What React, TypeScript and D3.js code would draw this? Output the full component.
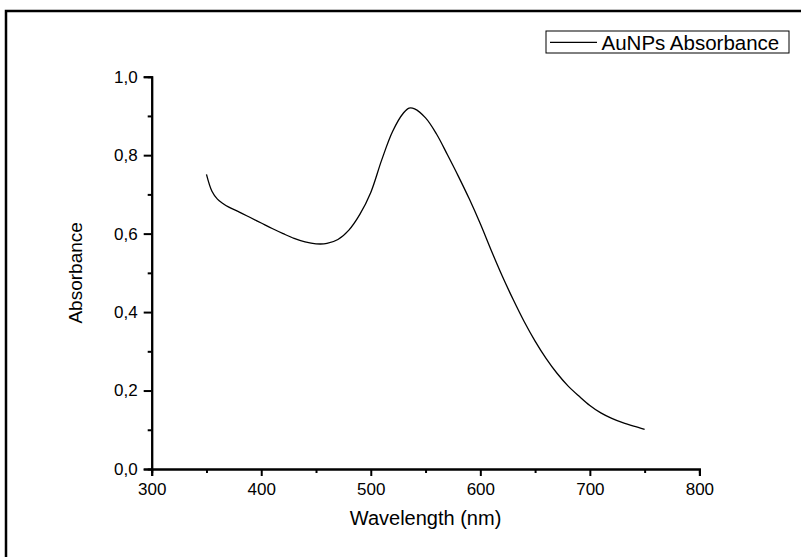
import React, { useEffect, useRef } from 'react';
import * as d3 from 'd3';

// spectrum
const wavelengths = [350, 355, 360, 365, 370, 380, 390, 400, 410, 420, 430, 440, 450, 460, 470, 480, 490, 500, 510, 520, 530, 535, 540, 550, 560, 570, 580, 590, 600, 610, 620, 630, 640, 650, 660, 670, 680, 690, 700, 710, 720, 730, 740, 750];
const absorbance = [0.751, 0.708, 0.688, 0.677, 0.668, 0.655, 0.641, 0.627, 0.613, 0.600, 0.588, 0.579, 0.574, 0.575, 0.585, 0.609, 0.649, 0.705, 0.788, 0.861, 0.908, 0.92, 0.918, 0.895, 0.854, 0.801, 0.746, 0.688, 0.625, 0.557, 0.492, 0.432, 0.376, 0.326, 0.282, 0.244, 0.212, 0.186, 0.162, 0.143, 0.129, 0.118, 0.109, 0.101];

const xTicks = [300, 400, 500, 600, 700, 800];
const xMinor = [350, 450, 550, 650, 750];
const yTicks = [0, 0.2, 0.4, 0.6, 0.8, 1.0];
const yMinor = [0.1, 0.3, 0.5, 0.7, 0.9];

const seriesName = 'AuNPs Absorbance';
const xTitle = 'Wavelength (nm)';
const yTitle = 'Absorbance';

const W = 801;
const H = 557;
const FONT = 'Liberation Sans, Arial, sans-serif';

export default function App() {
  const ref = useRef<SVGSVGElement>(null);

  useEffect(() => {
    const svg = d3.select(ref.current);
    svg.selectAll('*').remove();

    const left = 151.7, right = 699.4, top = 76.7, bottom = 469;
    const x = d3.scaleLinear().domain([300, 800]).range([left, right]);
    const y = d3.scaleLinear().domain([0, 1]).range([bottom, top]);

    // page frame (runs off the right and bottom edge)
    svg.append('rect')
      .attr('x', 6).attr('y', 11)
      .attr('width', 820).attr('height', 580)
      .attr('fill', 'none').attr('stroke', '#000').attr('stroke-width', 2.5);

    const fmt = (d: number) => d3.format('.1f')(d).replace('.', ',');

    const styleAxis = (g: any) => {
      g.select('.domain').attr('stroke-width', 2);
      g.selectAll('.tick line').attr('stroke-width', 2);
      g.selectAll('text').attr('font-family', FONT).attr('font-size', 17).attr('fill', '#000');
    };

    // x axis, major + minor
    svg.append('g')
      .attr('transform', `translate(0,${bottom})`)
      .call(d3.axisBottom(x).tickValues(xMinor).tickSize(4).tickFormat(() => ''))
      .call(styleAxis);
    svg.append('g')
      .attr('transform', `translate(0,${bottom})`)
      .call(d3.axisBottom(x).tickValues(xTicks).tickSize(7).tickSizeOuter(7).tickPadding(7).tickFormat(d3.format('d')))
      .call(styleAxis);

    // y axis, major + minor
    svg.append('g')
      .attr('transform', `translate(${left},0)`)
      .call(d3.axisLeft(y).tickValues(yMinor).tickSize(4).tickFormat(() => ''))
      .call(styleAxis);
    svg.append('g')
      .attr('transform', `translate(${left},0)`)
      .call(d3.axisLeft(y).tickValues(yTicks).tickSize(8).tickSizeOuter(8).tickPadding(6).tickFormat((d: any) => fmt(d)))
      .call(styleAxis);

    // curve
    const pts = wavelengths.map((w, i) => [w, absorbance[i]] as [number, number]);
    const line = d3.line<[number, number]>()
      .x(d => x(d[0]))
      .y(d => y(d[1]))
      .curve(d3.curveCatmullRom.alpha(0.5));
    svg.append('path')
      .datum(pts)
      .attr('d', line)
      .attr('fill', 'none')
      .attr('stroke', '#000')
      .attr('stroke-width', 1.3);

    // axis titles
    svg.append('text')
      .attr('x', (left + right) / 2).attr('y', 525)
      .attr('text-anchor', 'middle')
      .attr('font-family', FONT).attr('font-size', 20)
      .text(xTitle);
    svg.append('text')
      .attr('transform', `translate(82,${(top + bottom) / 2}) rotate(-90)`)
      .attr('text-anchor', 'middle')
      .attr('font-family', FONT).attr('font-size', 19)
      .text(yTitle);

    // legend
    const lg = svg.append('g');
    lg.append('rect')
      .attr('x', 546).attr('y', 31).attr('width', 243).attr('height', 22)
      .attr('fill', '#fff').attr('stroke', '#000').attr('stroke-width', 1);
    lg.append('line')
      .attr('x1', 550).attr('x2', 597).attr('y1', 42.3).attr('y2', 42.3)
      .attr('stroke', '#000').attr('stroke-width', 1.3);
    lg.append('text')
      .attr('x', 601.5).attr('y', 49.5)
      .attr('font-family', FONT).attr('font-size', 20.5)
      .text(seriesName);
  }, []);

  return (
    <svg ref={ref} width={W} height={H}
      style={{ position: 'absolute', left: 0, top: 0, background: '#fff' }} />
  );
}
